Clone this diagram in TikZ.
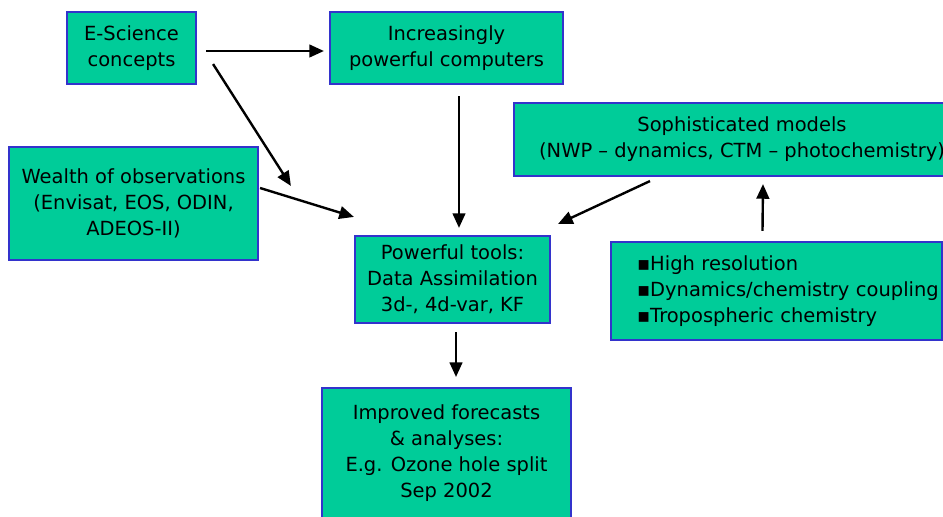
\documentclass[tikz,border=0pt]{standalone}
\usepackage{fontspec}
\setmainfont{DejaVu Sans}
\usetikzlibrary{arrows.meta}
\definecolor{boxfill}{RGB}{0,204,153}
\definecolor{boxline}{RGB}{51,51,204}
\tikzset{
  blk/.style={draw=boxline,fill=boxfill,line width=1.6pt,align=center,inner sep=0pt,
    font=\fontsize{14.6}{19.5}\selectfont},
  arr/.style={-{Triangle[length=11pt,width=9.5pt]},line width=1.8pt},
}

\begin{document}
\begin{tikzpicture}[x=0.75pt,y=-0.75pt]
  \useasboundingbox (0,0) rectangle (943,517);
  \clip (0,0) rectangle (943,517);
  \node[blk,minimum width=129*0.75pt,minimum height=72*0.75pt] (esci) at (131.5,48) {E-Science\\concepts};
  \node[blk,minimum width=233*0.75pt,minimum height=72*0.75pt] (comp) at (446.5,48) {Increasingly\\powerful computers};
  \node[blk,minimum width=456*0.75pt,minimum height=73*0.75pt] (models) at (742,139.5) {Sophisticated models\\(NWP – dynamics, CTM – photochemistry)};
  \node[blk,minimum width=249*0.75pt,minimum height=113*0.75pt] (obs) at (133.5,203.5) {Wealth of observations\\(Envisat, EOS, ODIN,\\ADEOS-II)};
  \node[blk,minimum width=195*0.75pt,minimum height=87*0.75pt] (tools) at (452.5,279.5) {Powerful tools:\\Data Assimilation\\3d-, 4d-var, KF};
  \node[blk,align=left,minimum width=331*0.75pt,minimum height=98*0.75pt,text width=279*0.75pt] (bul) at (776.5,291)
    {\mbox{▪High resolution}\\\mbox{▪Dynamics/chemistry coupling}\\\mbox{▪Tropospheric chemistry}};
  \node[blk,minimum width=249*0.75pt,minimum height=143*0.75pt,anchor=north] (fcst) at (446.5,387)
    {Improved forecasts\\\& analyses:\\E.g. Ozone hole split\\Sep 2002\\[-6.75pt]\mbox{}};
  % arrows between the boxes
  \draw[arr] ([shift={(9,3)}]esci.east) -- ([shift={(-5,3)}]comp.west);
  \draw[arr] ([shift={(16,-21)}]esci.south east) -- ([shift={(-63,-49)}]tools.north west);
  \draw[arr] ([shift={(1,-15.5)}]obs.east) -- ([shift={(0,-18)}]tools.north west);
  \draw[arr] ([shift={(12.5,11)}]comp.south) -- ([shift={(6.5,-7)}]tools.north);
  \draw[arr] ([shift={(-92,4)}]models.south) -- ([shift={(7,-11)}]tools.north east);
  \draw[arr] ([shift={(-14,-10)}]bul.north) -- ([shift={(21,7)}]models.south);
  \draw[arr] ([shift={(3.5,8)}]tools.south) -- ([shift={(9.5,-10)}]fcst.north);
\end{tikzpicture}
\end{document}
